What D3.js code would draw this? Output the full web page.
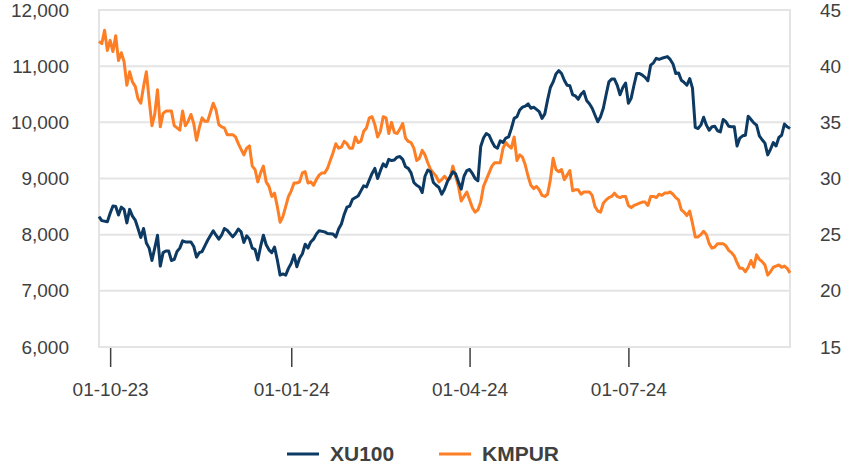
<!DOCTYPE html>
<html>
<head>
<meta charset="utf-8">
<script src="https://cdn.jsdelivr.net/npm/d3@7"></script>
<style>
  body { margin: 0; background: #fff; }
  svg { font-family: "Liberation Sans", Arial, sans-serif; }
</style>
</head>
<body>
<div id="vis"></div>
<script>
// frame
const FRAME_WIDTH = 842;
const FRAME_HEIGHT = 469;
const PLOT = { left: 99, right: 790, top: 10, bottom: 347 };

// trading-day index (0 = first day shown) for the date ticks
const TICK_DAYS = [4, 69, 133, 190];
const TICK_LABELS = ["01-10-23", "01-01-24", "01-04-24", "01-07-24"];
const LEFT_TICKS = [6000, 7000, 8000, 9000, 10000, 11000, 12000];
const RIGHT_TICKS = [15, 20, 25, 30, 35, 40, 45];

// XU100 (left axis)
const XU_DAYS = [0,1,3,4,5,6,7,8,9,10,11,12,13,14,15,16,17,18,19,20,21,22,23,24,25,26,27,28,29,30,31,33,34,35,36,37,38,39,41,42,43,44,45,46,48,49,50,51,52,53,54,55,56,57,58,59,60,61,62,63,
  64,65,66,67,68,69,70,71,72,73,74,75,76,77,78,79,81,82,84,85,86,87,88,89,90,91,93,94,95,96,97,98,99,100,101,102,103,104,105,106,107,108,109,110,111,112,113,114,115,116,117,118,119,120,121,122,123,124,125,
  126,127,128,129,130,131,132,133,134,135,136,137,138,139,140,141,142,143,144,145,146,147,148,149,150,151,152,153,154,155,156,157,158,159,160,161,162,163,164,165,166,167,168,169,170,171,172,173,174,175,176,177,178,179,180,181,182,183,184,185,186,187,188,189,
  190,191,192,193,194,195,196,197,198,199,200,201,202,204,205,206,207,208,209,210,211,212,213,214,215,216,217,218,219,220,221,222,223,224,225,226,227,228,229,230,231,232,233,234,235,236,237,238,239,240,241,242,243,244,245,246,247,248];
const XU_VALUES = [8320,8250,8230,8380,8510,8500,8350,8490,8450,8210,8450,8330,8260,8110,7950,8110,7850,7760,7540,7760,7990,7440,7680,7710,7710,7540,7560,7700,7760,7890,7870,7870,7790,7600,7680,7700,7800,7900,8070,7990,7920,7990,8110,8080,7960,8020,8100,8050,7860,7980,7920,7760,7740,7550,7790,7990,7820,7730,7680,7780,
  7550,7280,7300,7280,7400,7490,7640,7430,7580,7660,7830,7760,7870,7920,8010,8070,8050,8020,8010,7960,8100,8190,8360,8490,8510,8630,8690,8780,8870,8850,8970,9090,9180,9000,9140,9260,9210,9340,9320,9330,9380,9390,9340,9210,9180,9100,8930,8880,8850,8750,9040,9150,9120,8930,8880,8840,8720,8810,8940,
  9030,9120,9080,8940,8810,9040,9140,9160,9090,9000,8960,9570,9720,9800,9770,9660,9570,9540,9670,9640,9720,9740,9890,10070,10100,10220,10270,10290,10330,10250,10270,10230,10190,10070,10150,10400,10620,10720,10860,10920,10870,10750,10660,10650,10490,10470,10410,10500,10550,10390,10330,10250,10130,10010,10100,10250,10490,10720,10770,10770,10660,10490,10620,10700,
  10340,10430,10660,10870,10870,10840,10800,10740,11020,11060,11140,11120,11140,11170,11120,11040,10870,10880,10750,10710,10660,10780,10610,9910,9890,9950,10090,9950,9860,9920,9930,9850,9830,10050,10010,9930,9920,9920,9580,9720,9760,9770,10110,10050,9990,9950,9760,9690,9630,9420,9520,9640,9580,9730,9770,9970,9920,9890];

// KMPUR (right axis)
const KM_DAYS = [0,1,2,3,4,5,6,7,8,9,10,11,12,13,14,15,16,17,18,19,20,21,22,23,24,25,26,27,28,29,30,31,32,33,34,35,36,37,38,39,41,42,43,44,45,46,47,48,49,50,51,52,53,54,55,56,57,58,59,60,61,62,63,
  64,65,66,67,68,69,70,71,72,73,74,75,76,77,78,79,80,81,82,83,84,85,86,87,88,89,90,91,92,93,94,95,96,97,98,99,100,101,102,103,104,105,106,107,108,109,110,111,112,113,114,115,116,117,118,119,120,121,122,123,124,125,
  126,127,128,129,130,131,132,133,134,135,136,137,138,139,140,141,142,143,144,145,146,147,148,149,150,151,152,153,154,155,156,157,158,159,160,161,162,163,164,165,166,167,168,169,170,171,172,173,174,175,176,177,178,179,180,181,182,183,184,185,186,187,188,189,
  190,191,192,193,194,195,196,197,198,199,200,201,202,203,204,205,206,207,208,209,210,211,212,213,214,215,216,217,218,219,220,221,222,223,224,225,226,227,228,229,230,231,232,233,234,235,236,237,238,239,240,241,242,243,244,245,246,247,248];
const KM_VALUES = [42.2,42.0,43.2,41.4,42.3,41.3,42.7,40.5,41.2,40.4,38.3,39.5,38.6,38.2,37.1,36.7,38.2,39.5,37.0,34.7,35.7,37.9,34.6,35.8,36.0,36.0,36.0,34.7,34.5,34.3,36.0,34.7,35.1,35.7,34.9,33.4,34.5,35.4,35.1,35.1,36.7,36.1,34.8,34.6,34.5,33.9,33.9,33.9,33.7,33.1,32.6,32.1,32.7,32.9,31.1,30.8,29.7,30.5,31.1,29.7,29.3,28.4,28.7,
  27.5,26.1,26.6,27.5,28.4,28.9,29.6,29.6,29.7,30.5,30.6,29.6,29.7,29.4,29.9,30.3,30.5,30.5,30.9,31.6,32.3,33.1,32.7,32.8,33.3,33.1,32.7,32.7,33.7,33.2,33.3,34.2,34.5,35.4,35.5,34.8,33.7,34.2,35.5,35.4,34.0,35.0,34.1,34.0,34.4,34.9,33.6,33.3,33.2,32.7,31.6,31.8,32.5,32.1,31.4,30.8,30.5,30.2,29.7,29.9,30.2,29.9,
  30.0,31.1,30.2,29.3,28.0,28.4,28.8,28.1,27.4,27.0,27.2,27.9,29.3,29.9,30.5,31.1,31.4,31.4,31.4,32.7,33.2,32.9,32.7,33.7,31.6,32.1,31.9,31.2,30.2,29.4,29.1,29.3,29.0,28.5,28.4,28.6,29.9,31.8,30.8,30.6,30.8,29.9,30.3,30.7,28.9,29.0,29.0,28.6,28.8,28.8,28.8,28.5,27.5,27.1,27.0,27.8,28.1,28.3,28.4,28.7,28.4,28.3,28.4,28.4,
  27.6,27.4,27.6,27.7,27.8,27.9,27.9,27.6,28.4,28.4,28.3,28.6,28.5,28.7,28.7,28.8,28.6,28.3,28.1,27.2,27.0,26.7,27.1,26.0,24.8,24.8,25.0,25.3,25.0,24.2,23.8,23.9,24.2,24.2,24.2,24.0,23.6,23.4,23.1,22.5,22.0,22.0,21.7,22.1,22.7,22.1,23.2,22.8,22.6,22.3,21.4,21.7,22.1,22.2,22.3,22.1,22.2,22.0,21.6];

const SERIES = ["XU100", "KMPUR"];
const COLORS = ["#0c3a63", "#fd7e24"];

const xu = XU_DAYS.map((d, i) => ({ day: d, value: XU_VALUES[i] }));
const km = KM_DAYS.map((d, i) => ({ day: d, value: KM_VALUES[i] }));

const svg = d3.select("#vis")
    .append("svg")
    .attr("width", FRAME_WIDTH)
    .attr("height", FRAME_HEIGHT);

const X_SCALE = d3.scaleLinear().domain([0, 248]).range([PLOT.left, PLOT.right]);
const Y_LEFT = d3.scaleLinear().domain([6000, 12000]).range([PLOT.bottom, PLOT.top]);
const Y_RIGHT = d3.scaleLinear().domain([15, 45]).range([PLOT.bottom, PLOT.top]);

// gridlines
svg.append("g")
    .selectAll("line")
    .data(LEFT_TICKS)
    .enter()
    .append("line")
    .attr("x1", PLOT.left)
    .attr("x2", PLOT.right)
    .attr("y1", d => Y_LEFT(d))
    .attr("y2", d => Y_LEFT(d))
    .attr("stroke", "#e4e4e4")
    .attr("stroke-width", 2);

// side borders
svg.append("g")
    .selectAll("line")
    .data([PLOT.left, PLOT.right])
    .enter()
    .append("line")
    .attr("x1", d => d)
    .attr("x2", d => d)
    .attr("y1", PLOT.top - 1)
    .attr("y2", PLOT.bottom + 1)
    .attr("stroke", "#e4e4e4")
    .attr("stroke-width", 2);

// left axis
const leftAxis = svg.append("g")
    .attr("transform", "translate(69,0)")
    .call(d3.axisLeft(Y_LEFT).tickValues(LEFT_TICKS).tickSize(0).tickPadding(0)
        .tickFormat(d3.format(",")));
leftAxis.select(".domain").remove();

// right axis
const rightAxis = svg.append("g")
    .attr("transform", "translate(820,0)")
    .call(d3.axisRight(Y_RIGHT).tickValues(RIGHT_TICKS).tickSize(0).tickPadding(0));
rightAxis.select(".domain").remove();

// date axis
const xAxis = svg.append("g")
    .attr("transform", `translate(0,${PLOT.bottom + 1})`)
    .call(d3.axisBottom(X_SCALE).tickValues(TICK_DAYS).tickSize(19).tickPadding(16)
        .tickFormat((d, i) => TICK_LABELS[i]));
xAxis.select(".domain").remove();
xAxis.selectAll(".tick line").attr("stroke", "#404040").attr("stroke-width", 1.5);

svg.selectAll(".tick text")
    .attr("font-family", "'Liberation Sans', Arial, sans-serif")
    .attr("font-size", 19)
    .attr("fill", "#404040");

// lines
const lineLeft = d3.line().x(d => X_SCALE(d.day)).y(d => Y_LEFT(d.value));
const lineRight = d3.line().x(d => X_SCALE(d.day)).y(d => Y_RIGHT(d.value));

svg.append("path")
    .datum(km)
    .attr("d", lineRight)
    .attr("fill", "none")
    .attr("stroke", COLORS[1])
    .attr("stroke-width", 3)
    .attr("stroke-linejoin", "round");

svg.append("path")
    .datum(xu)
    .attr("d", lineLeft)
    .attr("fill", "none")
    .attr("stroke", COLORS[0])
    .attr("stroke-width", 3)
    .attr("stroke-linejoin", "round");

// legend
const legendX = [287, 439];
const legend = svg.append("g")
    .selectAll("g")
    .data(SERIES)
    .enter()
    .append("g")
    .attr("transform", (d, i) => `translate(${legendX[i]},454)`);

legend.append("line")
    .attr("x1", 0).attr("x2", 32)
    .attr("stroke", (d, i) => COLORS[i])
    .attr("stroke-width", 3);

legend.append("text")
    .attr("x", 43)
    .attr("y", 7)
    .attr("font-size", 21)
    .attr("font-weight", "bold")
    .attr("fill", "#404040")
    .text(d => d);
</script>
</body>
</html>
